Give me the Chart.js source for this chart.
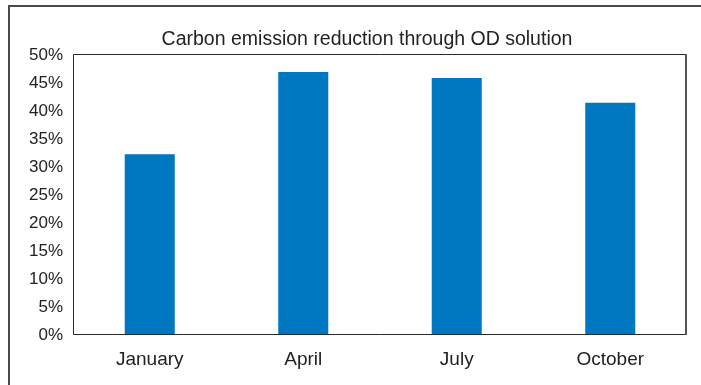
<!DOCTYPE html>
<html>
<head>
<meta charset="utf-8">
<style>
  html, body { margin: 0; padding: 0; background: #fff; }
  #wrap { position: relative; width: 701px; height: 385px; }
</style>
<script src="https://cdn.jsdelivr.net/npm/chart.js@4/dist/chart.umd.min.js"></script>
</head>
<body>
<div id="wrap"><canvas id="chart" width="701" height="385"></canvas></div>
<script>
// Monthly share of carbon emissions cut by the OD solution (%)
const months = ['January', 'April', 'July', 'October'];
const reduction = [32.1, 46.8, 45.7, 41.3];
const yTicks = [0, 5, 10, 15, 20, 25, 30, 35, 40, 45, 50];
const chartTitle = 'Carbon emission reduction through OD solution';

const FONT = "'Liberation Sans', Arial, Helvetica, sans-serif";
const TEXT = '#222222';

// Outer frame (left and top edges), the box around the plot area,
// and a title centred over the frame rather than the padded canvas
const framePlugin = {
  id: 'frames',
  afterLayout(chart) {
    const t = chart.titleBlock;
    if (t) {
      t.left = 47;
      t.right = chart.chartArea.right;
      t.width = t.right - t.left;
    }
  },
  beforeDraw(chart) {
    const ctx = chart.ctx;
    ctx.save();
    ctx.strokeStyle = '#4a4a4a';
    ctx.lineWidth = 2;
    ctx.beginPath();
    ctx.moveTo(9, chart.height);
    ctx.lineTo(9, 6);
    ctx.lineTo(chart.width, 6);
    ctx.stroke();
    ctx.restore();
  },
  afterDatasetsDraw(chart) {
    const { left, right, top, bottom } = chart.chartArea;
    const ctx = chart.ctx;
    ctx.save();
    ctx.strokeStyle = '#2a2a2a';
    ctx.lineWidth = 1;
    ctx.beginPath();
    ctx.moveTo(right - 1, top + 0.5);
    ctx.lineTo(left + 0.5, top + 0.5);
    ctx.lineTo(left + 0.5, bottom + 0.5);
    ctx.lineTo(right - 1, bottom + 0.5);
    ctx.stroke();
    ctx.strokeStyle = '#555555';
    ctx.lineWidth = 2;
    ctx.beginPath();
    ctx.moveTo(right - 1, top);
    ctx.lineTo(right - 1, bottom + 1);
    ctx.stroke();
    ctx.restore();
  }
};

new Chart(document.getElementById('chart'), {
  type: 'bar',
  data: {
    labels: months,
    datasets: [{
      data: reduction,
      backgroundColor: '#0077c1',
      borderWidth: 0,
      barPercentage: 0.326,
      categoryPercentage: 1
    }]
  },
  options: {
    responsive: false,
    animation: false,
    devicePixelRatio: 1,
    layout: { padding: { left: 18, right: 14, top: 0, bottom: 0 } },
    plugins: {
      legend: { display: false },
      tooltip: { enabled: false },
      title: {
        display: true,
        text: chartTitle,
        color: TEXT,
        font: { family: FONT, size: 19.5, weight: 'normal', lineHeight: 1.2 },
        padding: { top: 28.2, bottom: 2.4 }
      }
    },
    scales: {
      x: {
        grid: { display: false, drawTicks: false },
        border: { display: false },
        ticks: { color: TEXT, font: { family: FONT, size: 19 }, padding: 14.5, maxRotation: 0 },
        afterFit(scale) { scale.height = 51; }
      },
      y: {
        min: yTicks[0],
        max: yTicks[yTicks.length - 1],
        grid: { display: false, drawTicks: false },
        border: { display: false },
        afterBuildTicks(scale) { scale.ticks = yTicks.map(v => ({ value: v })); },
        ticks: {
          color: TEXT,
          font: { family: FONT, size: 17 },
          padding: 10,
          labelOffset: 1.5,
          callback: v => v + '%'
        },
        afterFit(scale) { scale.width = 55; }
      }
    }
  },
  plugins: [framePlugin]
});
</script>
</body>
</html>
